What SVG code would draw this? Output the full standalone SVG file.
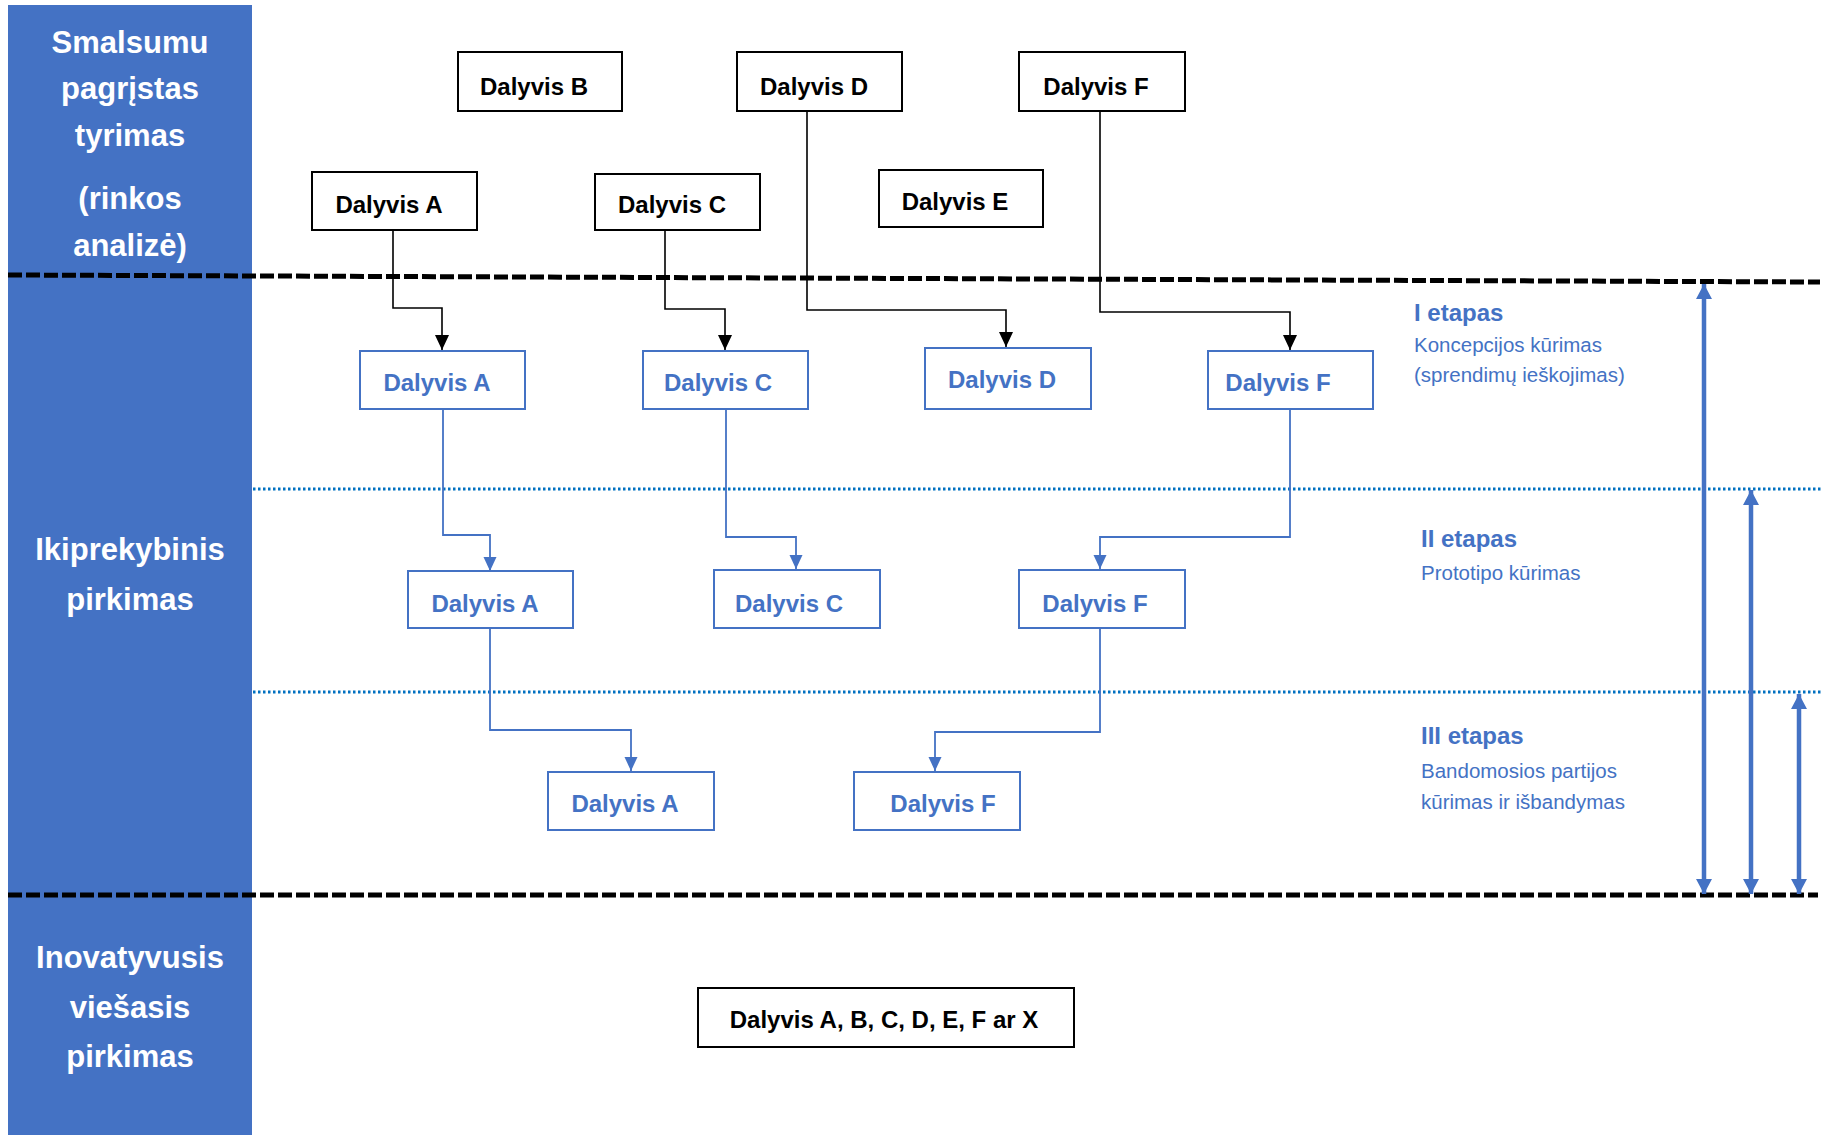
<svg xmlns="http://www.w3.org/2000/svg" width="1828" height="1135" viewBox="0 0 1828 1135">
<style>
.bar{fill:#4472C4}
.lbl{font-family:"Liberation Sans",Arial,sans-serif;font-weight:bold;font-size:31px;fill:#fff;text-anchor:middle}
.bk rect{fill:#fff;stroke:#000;stroke-width:2}
.bk text{font-family:"Liberation Sans",Arial,sans-serif;font-weight:bold;font-size:24px;fill:#000;text-anchor:middle}
.bl rect{fill:#fff;stroke:#4472C4;stroke-width:2}
.bl text{font-family:"Liberation Sans",Arial,sans-serif;font-weight:bold;font-size:24px;fill:#4472C4;text-anchor:middle}
.dash{stroke:#000;stroke-width:5;stroke-dasharray:14 4;fill:none}
.dot{stroke:#0070C0;stroke-width:3;stroke-dasharray:2.5 2.5;fill:none}
.cb{stroke:#000;stroke-width:1.6;fill:none;marker-end:url(#ab)}
.cu{stroke:#4472C4;stroke-width:1.8;fill:none;marker-end:url(#au)}
.span{stroke:#4472C4;stroke-width:4.5;fill:none;marker-start:url(#as);marker-end:url(#as)}
.eh{font-family:"Liberation Sans",Arial,sans-serif;font-weight:bold;font-size:24px;fill:#4472C4}
.ed{font-family:"Liberation Sans",Arial,sans-serif;font-size:20.5px;fill:#4472C4}
</style>
<defs>
<marker id="ab" markerUnits="userSpaceOnUse" markerWidth="16" markerHeight="16" refX="15" refY="7" orient="auto"><path d="M0,0 L15,7 L0,14 Z" fill="#000"/></marker>
<marker id="au" markerUnits="userSpaceOnUse" markerWidth="16" markerHeight="16" refX="14" refY="6.5" orient="auto"><path d="M0,0 L14,6.5 L0,13 Z" fill="#4472C4"/></marker>
<marker id="as" markerUnits="userSpaceOnUse" markerWidth="18" markerHeight="18" refX="15" refY="8" orient="auto-start-reverse"><path d="M0,0 L15,8 L0,16 Z" fill="#4472C4"/></marker>
</defs>
<rect width="1828" height="1135" fill="#fff"/>
<g id="sidebar">
<rect class="bar" x="8" y="5" width="244" height="1130"/>
<text class="lbl" x="130" y="53">Smalsumu</text>
<text class="lbl" x="130" y="99">pagrįstas</text>
<text class="lbl" x="130" y="146">tyrimas</text>
<text class="lbl" x="130" y="209">(rinkos</text>
<text class="lbl" x="130" y="256">analizė)</text>
<text class="lbl" x="130" y="560">Ikiprekybinis</text>
<text class="lbl" x="130" y="610">pirkimas</text>
<text class="lbl" x="130" y="968">Inovatyvusis</text>
<text class="lbl" x="130" y="1018">viešasis</text>
<text class="lbl" x="130" y="1067">pirkimas</text>
</g>
<g id="separators">
<line class="dash" x1="8" y1="275" x2="1820" y2="282"/>
<line class="dash" x1="8" y1="895" x2="1818" y2="895"/>
<line class="dot" x1="253" y1="489" x2="1822" y2="489"/>
<line class="dot" x1="253" y1="692" x2="1822" y2="692"/>
</g>
<g id="connectors">
<path class="cb" d="M393,230 V308 H442 V350"/>
<path class="cb" d="M665,230 V309 H725 V350"/>
<path class="cb" d="M807,111 V310 H1006 V347"/>
<path class="cb" d="M1100,111 V312 H1290 V350"/>
<path class="cu" d="M443,409 V535 H490 V571"/>
<path class="cu" d="M726,409 V537 H796 V569"/>
<path class="cu" d="M1290,409 V537 H1100 V569"/>
<path class="cu" d="M490,628 V730 H631 V771"/>
<path class="cu" d="M1100,628 V732 H935 V771"/>
<line class="span" x1="1704" y1="284" x2="1704" y2="894"/>
<line class="span" x1="1751" y1="490" x2="1751" y2="894"/>
<line class="span" x1="1799" y1="694" x2="1799" y2="894"/>
</g>
<g id="top-B" class="bk"><rect x="458" y="52" width="164" height="59"/><text x="534" y="95">Dalyvis B</text></g>
<g id="top-D" class="bk"><rect x="737" y="52" width="165" height="59"/><text x="814" y="95">Dalyvis D</text></g>
<g id="top-F" class="bk"><rect x="1019" y="52" width="166" height="59"/><text x="1096" y="95">Dalyvis F</text></g>
<g id="top-A" class="bk"><rect x="312" y="172" width="165" height="58"/><text x="389" y="213">Dalyvis A</text></g>
<g id="top-C" class="bk"><rect x="595" y="174" width="165" height="56"/><text x="672" y="213">Dalyvis C</text></g>
<g id="top-E" class="bk"><rect x="879" y="170" width="164" height="57"/><text x="955" y="210">Dalyvis E</text></g>
<g id="s1-A" class="bl"><rect x="360" y="351" width="165" height="58"/><text x="437" y="391">Dalyvis A</text></g>
<g id="s1-C" class="bl"><rect x="643" y="351" width="165" height="58"/><text x="718" y="391">Dalyvis C</text></g>
<g id="s1-D" class="bl"><rect x="925" y="348" width="166" height="61"/><text x="1002" y="388">Dalyvis D</text></g>
<g id="s1-F" class="bl"><rect x="1208" y="351" width="165" height="58"/><text x="1278" y="391">Dalyvis F</text></g>
<g id="s2-A" class="bl"><rect x="408" y="571" width="165" height="57"/><text x="485" y="612">Dalyvis A</text></g>
<g id="s2-C" class="bl"><rect x="714" y="570" width="166" height="58"/><text x="789" y="612">Dalyvis C</text></g>
<g id="s2-F" class="bl"><rect x="1019" y="570" width="166" height="58"/><text x="1095" y="612">Dalyvis F</text></g>
<g id="s3-A" class="bl"><rect x="548" y="772" width="166" height="58"/><text x="625" y="812">Dalyvis A</text></g>
<g id="s3-F" class="bl"><rect x="854" y="772" width="166" height="58"/><text x="943" y="812">Dalyvis F</text></g>
<g id="final" class="bk"><rect x="698" y="988" width="376" height="59"/><text x="884" y="1028">Dalyvis A, B, C, D, E, F ar X</text></g>
<g id="stage-labels">
<text class="eh" x="1414" y="321">I etapas</text>
<text class="ed" x="1414" y="352">Koncepcijos kūrimas</text>
<text class="ed" x="1414" y="382">(sprendimų ieškojimas)</text>
<text class="eh" x="1421" y="547">II etapas</text>
<text class="ed" x="1421" y="580">Prototipo kūrimas</text>
<text class="eh" x="1421" y="744">III etapas</text>
<text class="ed" x="1421" y="778">Bandomosios partijos</text>
<text class="ed" x="1421" y="809">kūrimas ir išbandymas</text>
</g>
</svg>
